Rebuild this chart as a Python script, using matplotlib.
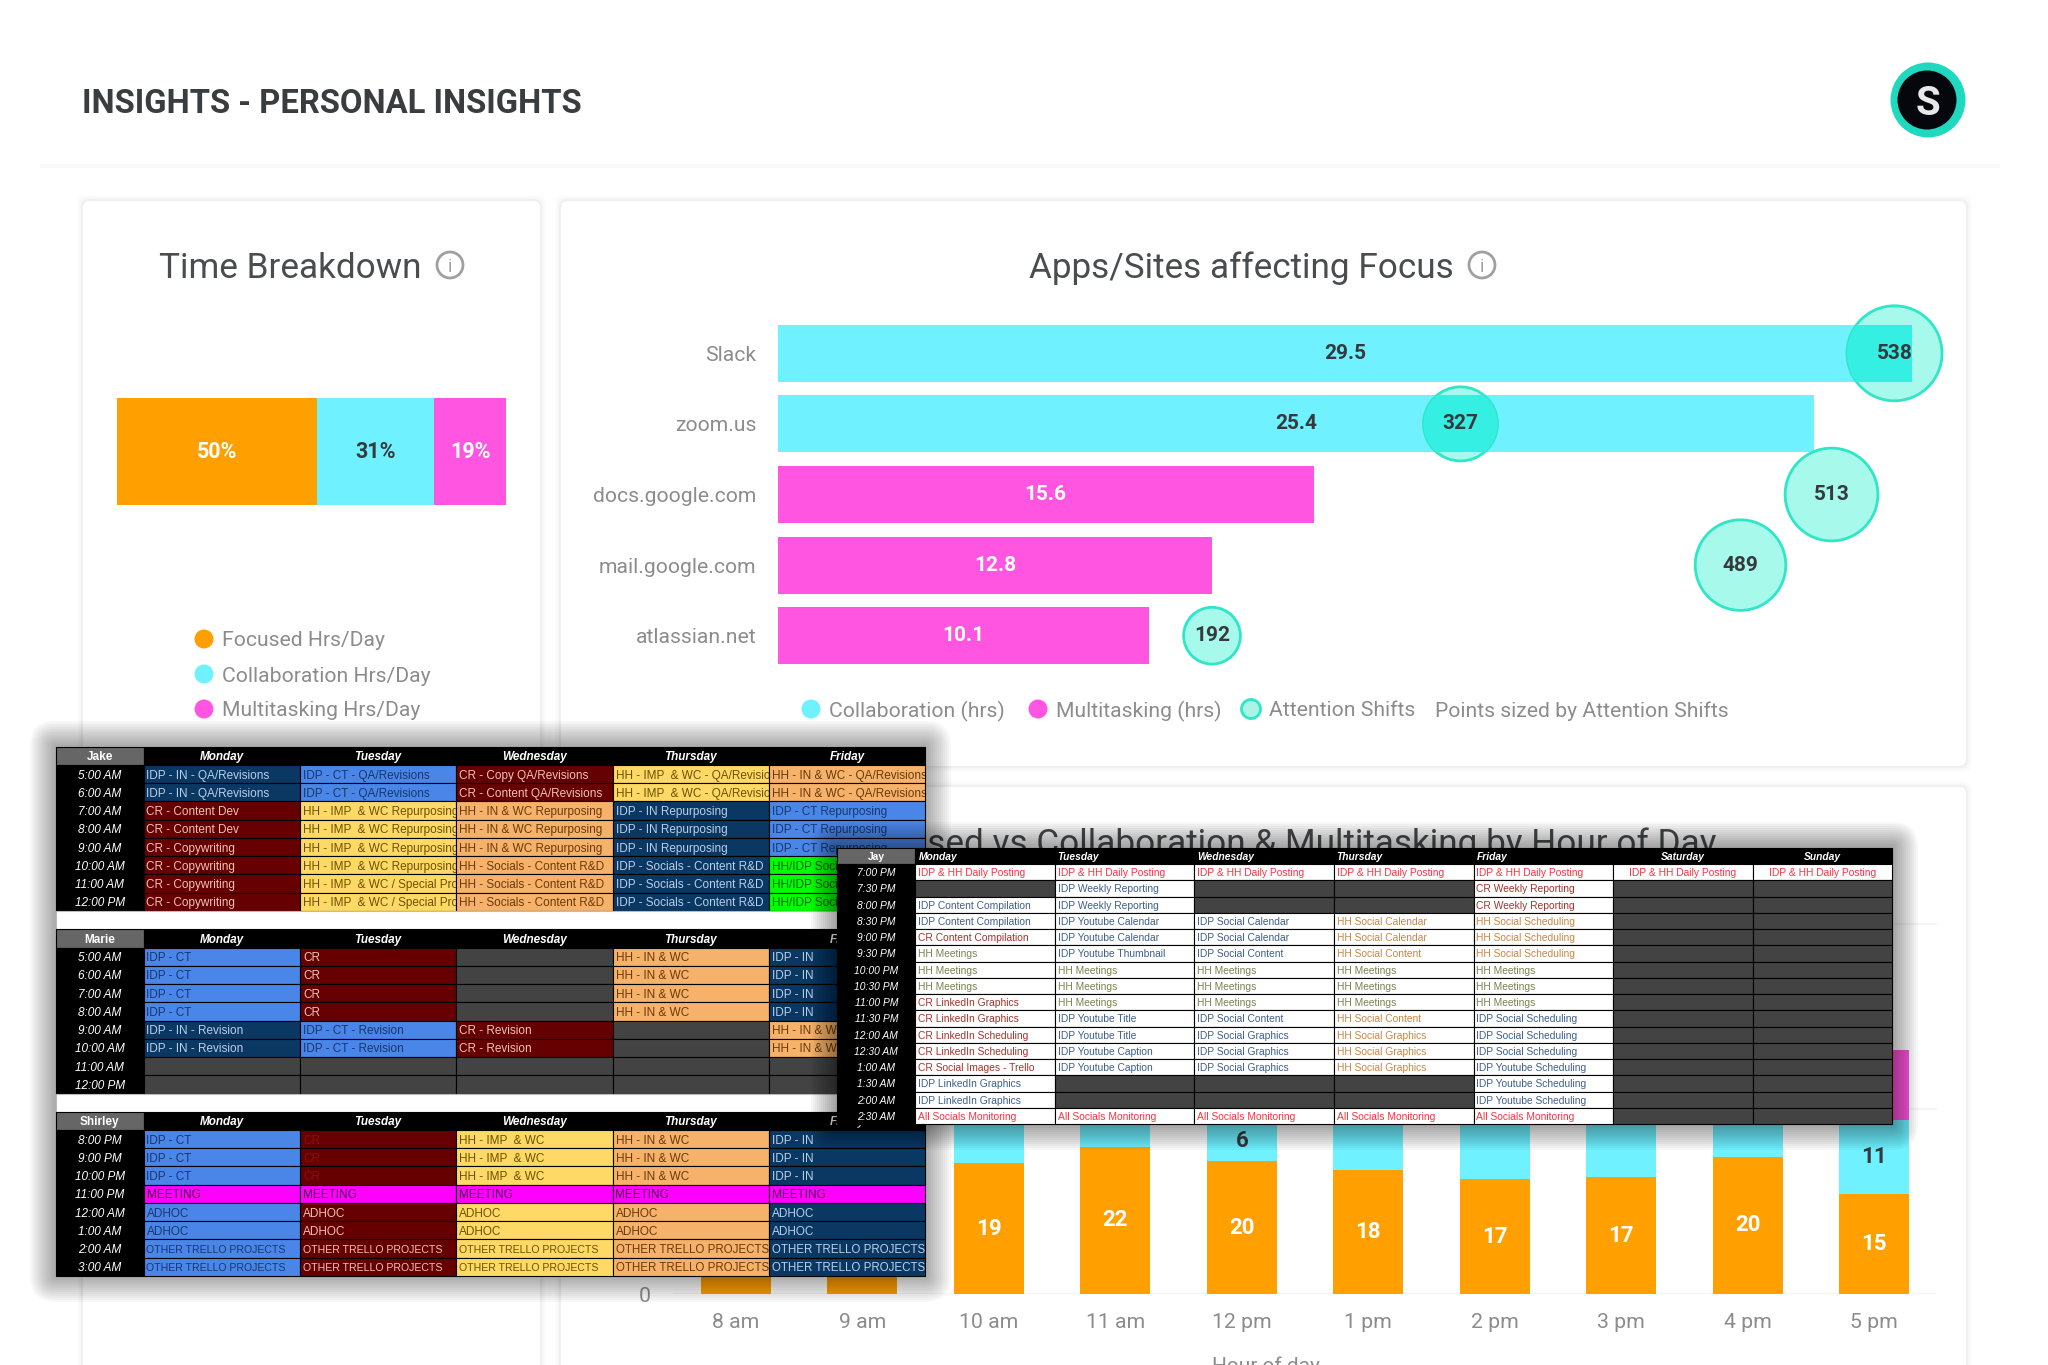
import matplotlib
matplotlib.use("Agg")
import matplotlib.pyplot as plt
from matplotlib.patches import Rectangle, Circle, FancyBboxPatch

W, H = 2048, 1365
UI_FONT = ["Roboto", "DejaVu Sans"]
SHEET_FONT = ["Liberation Sans", "DejaVu Sans"]

ORANGE = "#ff9f00"
CYAN = "#6ff1ff"
PINK = "#ff55e0"
TEAL = "#2fe6c6"
GREY_TEXT = "#8c8c8c"
DARK_TEXT = "#36393d"

# ---------------- Time breakdown ----------------
breakdown_names = ["Focused Hrs/Day", "Collaboration Hrs/Day", "Multitasking Hrs/Day"]
breakdown_pct = [51.3, 30.2, 18.5]
breakdown_labels = ["50%", "31%", "19%"]

# ---------------- Apps / sites ----------------
apps = ["Slack", "zoom.us", "docs.google.com", "mail.google.com", "atlassian.net"]
# bar lengths as drawn, they do not scale exactly with the printed hours
collab_extent = [32.4, 29.6, 0, 0, 0]
multi_extent = [0, 0, 15.3, 12.4, 10.6]
collab_labels = ["29.5", "25.4", "", "", ""]
multi_labels = ["", "", "15.6", "12.8", "10.1"]
attention_shifts = [538, 327, 513, 489, 192]
shift_pos = [31.9, 19.5, 30.1, 27.5, 12.4]

# ---------------- Hour of day ----------------
hours = ["8 am", "9 am", "10 am", "11 am", "12 pm", "1 pm", "2 pm", "3 pm", "4 pm", "5 pm"]
# most of the upper segments sit behind the sheets, those are estimates
focused = [12, 15, 19.4, 21.8, 19.7, 18.4, 17.0, 17.3, 20.3, 14.8]
collab = [12, 14, 15, 10, 6, 15, 18, 18, 13, 11]
multi = [5, 6, 5, 4, 8, 4, 3, 3, 5, 10.3]

# ---------------- Schedules ----------------
week_days = ["Monday", "Tuesday", "Wednesday", "Thursday", "Friday"]
jay_days = week_days + ["Saturday", "Sunday"]

day_times = ["5:00 AM", "6:00 AM", "7:00 AM", "8:00 AM", "9:00 AM", "10:00 AM", "11:00 AM", "12:00 PM"]
night_times = ["8:00 PM", "9:00 PM", "10:00 PM", "11:00 PM", "12:00 AM", "1:00 AM", "2:00 AM", "3:00 AM"]
jay_times = ["7:00 PM", "7:30 PM", "8:00 PM", "8:30 PM", "9:00 PM", "9:30 PM", "10:00 PM", "10:30 PM",
             "11:00 PM", "11:30 PM", "12:00 AM", "12:30 AM", "1:00 AM", "1:30 AM", "2:00 AM", "2:30 AM"]

jake_cols = [
    ["IDP - IN - QA/Revisions"] * 2 + ["CR - Content Dev"] * 2 + ["CR - Copywriting"] * 4,
    ["IDP - CT - QA/Revisions"] * 2 + ["HH - IMP  & WC Repurposing"] * 4 + ["HH - IMP  & WC / Special Projects"] * 2,
    ["CR - Copy QA/Revisions", "CR - Content QA/Revisions"] + ["HH - IN & WC Repurposing"] * 3 + ["HH - Socials - Content R&D"] * 3,
    ["HH - IMP  & WC - QA/Revisions"] * 2 + ["IDP - IN Repurposing"] * 3 + ["IDP - Socials - Content R&D"] * 3,
    ["HH - IN & WC - QA/Revisions"] * 2 + ["IDP - CT Repurposing"] * 3 + ["HH/IDP Socials"] * 3,
]
marie_cols = [
    ["IDP - CT"] * 4 + ["IDP - IN - Revision"] * 2 + [""] * 2,
    ["CR"] * 4 + ["IDP - CT - Revision"] * 2 + [""] * 2,
    [""] * 4 + ["CR - Revision"] * 2 + [""] * 2,
    ["HH - IN & WC"] * 4 + [""] * 4,
    ["IDP - IN"] * 4 + ["HH - IN & WC"] * 2 + [""] * 2,
]
shirley_cols = [
    ["IDP - CT"] * 3 + ["MEETING"] + ["ADHOC"] * 2 + ["OTHER TRELLO PROJECTS"] * 2,
    ["CR"] * 3 + ["MEETING"] + ["ADHOC"] * 2 + ["OTHER TRELLO PROJECTS"] * 2,
    ["HH - IMP  & WC"] * 3 + ["MEETING"] + ["ADHOC"] * 2 + ["OTHER TRELLO PROJECTS"] * 2,
    ["HH - IN & WC"] * 3 + ["MEETING"] + ["ADHOC"] * 2 + ["OTHER TRELLO PROJECTS"] * 2,
    ["IDP - IN"] * 3 + ["MEETING"] + ["ADHOC"] * 2 + ["OTHER TRELLO PROJECTS"] * 2,
]
jay_cols = [
    ["IDP & HH Daily Posting", "", "IDP Content Compilation", "IDP Content Compilation", "CR Content Compilation"]
    + ["HH Meetings"] * 3 + ["CR LinkedIn Graphics"] * 2 + ["CR LinkedIn Scheduling"] * 2
    + ["CR Social Images - Trello"] + ["IDP LinkedIn Graphics"] * 2 + ["All Socials Monitoring"],
    ["IDP & HH Daily Posting"] + ["IDP Weekly Reporting"] * 2 + ["IDP Youtube Calendar"] * 2 + ["IDP Youtube Thumbnail"]
    + ["HH Meetings"] * 3 + ["IDP Youtube Title"] * 2 + ["IDP Youtube Caption"] * 2 + [""] * 2 + ["All Socials Monitoring"],
    ["IDP & HH Daily Posting"] + [""] * 2 + ["IDP Social Calendar"] * 2 + ["IDP Social Content"]
    + ["HH Meetings"] * 3 + ["IDP Social Content"] + ["IDP Social Graphics"] * 3 + [""] * 2 + ["All Socials Monitoring"],
    ["IDP & HH Daily Posting"] + [""] * 2 + ["HH Social Calendar"] * 2 + ["HH Social Content"]
    + ["HH Meetings"] * 3 + ["HH Social Content"] + ["HH Social Graphics"] * 3 + [""] * 2 + ["All Socials Monitoring"],
    ["IDP & HH Daily Posting"] + ["CR Weekly Reporting"] * 2 + ["HH Social Scheduling"] * 3
    + ["HH Meetings"] * 3 + ["IDP Social Scheduling"] * 3 + ["IDP Youtube Scheduling"] * 3 + ["All Socials Monitoring"],
    ["IDP & HH Daily Posting"] + [""] * 15,
    ["IDP & HH Daily Posting"] + [""] * 15,
]

plt.rcParams["font.family"] = UI_FONT
fig = plt.figure(figsize=(W / 100, H / 100), dpi=100, facecolor="white")


def px_axes(x0, y0, x1, y1, zorder=1):
    ax = fig.add_axes([x0 / W, 1 - y1 / H, (x1 - x0) / W, (y1 - y0) / H], zorder=zorder)
    ax.patch.set_alpha(0)
    return ax


def pixel_layer(zorder):
    ax = px_axes(0, 0, W, H, zorder)
    ax.set_xlim(0, W)
    ax.set_ylim(H, 0)
    ax.axis("off")
    return ax


# ---------------- Page background ----------------
bg = pixel_layer(0)
bg.add_patch(Rectangle((40, 164), 1960, 4, color="#f8f8f8", lw=0))
for (x0, y0, x1, y1) in [(82, 200, 541, 1420), (560, 200, 1967, 767), (560, 786, 1967, 1420)]:
    for k in range(5, 0, -1):
        bg.add_patch(FancyBboxPatch((x0 - k, y0 - k), x1 - x0 + 2 * k, y1 - y0 + 2 * k,
                                    boxstyle="round,pad=0,rounding_size=8", fc="#000000", ec="none", alpha=0.008))
    bg.add_patch(FancyBboxPatch((x0, y0), x1 - x0, y1 - y0, boxstyle="round,pad=0,rounding_size=8",
                                fc="white", ec="#f0f0f0", lw=1.5))

bg.text(82, 100.5, "INSIGHTS - PERSONAL INSIGHTS", fontsize=23.6, fontweight="bold", color="#3a3d40",
        va="center_baseline")

# avatar
bg.add_patch(Circle((1928, 100), 37.5, fc="#1fd8c0", ec="none"))
bg.add_patch(Circle((1927, 100), 29.5, fc="#05070d", ec="none"))
bg.text(1928, 100, "S", fontsize=29, fontweight="bold", color="#e8e8e8", ha="center", va="center_baseline")


def card_title(text, x, y, icon_x):
    bg.text(x, y, text, fontsize=25.3, color="#4a4d50", ha="center", va="center_baseline")
    bg.add_patch(Circle((icon_x, y), 13, fc="none", ec="#a0a0a0", lw=2))
    bg.text(icon_x, y, "i", fontsize=13, color="#a0a0a0", ha="center", va="center_baseline")


def legend_item(x, y, color, text, edge=None):
    bg.add_patch(Circle((x, y), 9.5, fc=color, ec=edge or "none", lw=2))
    bg.text(x + 18, y, text, fontsize=15.2, color=GREY_TEXT, va="center_baseline")


card_title("Time Breakdown", 290, 265, 450)
card_title("Apps/Sites affecting Focus", 1241, 265, 1482)
bg.text(1716, 841, "Focused vs Collaboration & Multitasking by Hour of Day", fontsize=25.3, color="#4a4d50",
        ha="right", va="center_baseline")

# ---------------- Time breakdown bar ----------------
ax = px_axes(117, 398, 506, 505)
left = 0
for val, color, label, txt in zip(breakdown_pct, [ORANGE, CYAN, PINK], breakdown_labels, ["white", DARK_TEXT, "white"]):
    bars = ax.barh([0], [val], left=left, height=1, color=color)
    ax.bar_label(bars, labels=[label], label_type="center", color=txt, fontsize=15.5, fontweight="bold")
    left += val
ax.set_xlim(0, 100)
ax.set_ylim(-0.5, 0.5)
ax.axis("off")

for y, color, name in zip([639, 674, 709], [ORANGE, CYAN, PINK], breakdown_names):
    legend_item(204, y, color, name)

# ---------------- Apps chart ----------------
ax = px_axes(778, 318, 2003, 671)
b1 = ax.barh(apps, collab_extent, height=0.81, color=CYAN)
b2 = ax.barh(apps, multi_extent, height=0.81, color=PINK)
ax.bar_label(b1, labels=collab_labels, label_type="center", color=DARK_TEXT, fontsize=15, fontweight="bold")
ax.bar_label(b2, labels=multi_labels, label_type="center", color="white", fontsize=15, fontweight="bold")
sizes = [v * 8.7 for v in attention_shifts]
ax.scatter(shift_pos, apps, s=sizes, facecolor=(0.18, 0.95, 0.82, 0.42), edgecolor=TEAL, linewidth=2,
           clip_on=False, zorder=3)
# where a bubble lies on a cyan bar the reference goes a much stronger teal
for bar in b1[:2]:
    over = ax.scatter(shift_pos, apps, s=sizes, facecolor="#35f0e2", edgecolor="none", zorder=3.5)
    over.set_clip_path(bar)
for pos, app, v in zip(shift_pos, apps, attention_shifts):
    ax.text(pos, app, str(v), color=DARK_TEXT, fontsize=15, fontweight="bold", ha="center", va="center", zorder=4)
ax.set_xlim(0, 35)
ax.set_ylim(4.5, -0.5)
ax.xaxis.set_visible(False)
for s in ax.spines.values():
    s.set_visible(False)
ax.tick_params(axis="y", length=0, pad=15.5, labelsize=15.2, labelcolor=GREY_TEXT)

legend_item(811, 709, CYAN, "Collaboration (hrs)")
legend_item(1038, 709, PINK, "Multitasking (hrs)")
legend_item(1251, 709, "#a8f5e6", "Attention Shifts", edge=TEAL)
bg.text(1435, 709, "Points sized by Attention Shifts", fontsize=15.2, color=GREY_TEXT, va="center_baseline")

# ---------------- Hour of day chart ----------------
ax = px_axes(672.8, 880, 1937.2, 1294)
x_pos = list(range(len(hours)))
b1 = ax.bar(x_pos, focused, width=0.554, color=ORANGE)
b2 = ax.bar(x_pos, collab, width=0.554, bottom=focused, color=CYAN)
stack = [a + b for a, b in zip(focused, collab)]
b3 = ax.bar(x_pos, multi, width=0.554, bottom=stack, color=PINK)
ax.bar_label(b1, labels=[f"{v:.0f}" for v in focused], label_type="center", color="white", fontsize=16, fontweight="bold")
ax.bar_label(b2, labels=[f"{v:.0f}" for v in collab], label_type="center", color=DARK_TEXT, fontsize=16, fontweight="bold")
ax.bar_label(b3, labels=[f"{v:.0f}" for v in multi], label_type="center", color="white", fontsize=16, fontweight="bold")
ax.set_xlim(-0.5, 9.5)
ax.set_ylim(0, 414 / 6.75)
ax.set_yticks([0, 27.4, 54.8], ["0", "27", "55"])
ax.set_xticks(x_pos, hours)
ax.set_axisbelow(True)
ax.grid(axis="y", color="#f5f5f5", lw=1.5)
for s in ax.spines.values():
    s.set_visible(False)
ax.tick_params(axis="both", length=0, labelsize=15.3, labelcolor=GREY_TEXT)
ax.tick_params(axis="x", pad=14)
ax.tick_params(axis="y", pad=16)
ax.set_xlabel("Hour of day", fontsize=15, color=GREY_TEXT, labelpad=15)
ax.xaxis.set_label_coords(0.469, -0.15)

# ---------------- Schedule sheets ----------------
top = pixel_layer(5)
FILLS = {"navy": ("#0b3763", "#b9d0ea"), "blue": ("#4a86e8", "#17376e"), "red": ("#660000", "#eec2b8"),
         "yellow": ("#ffd966", "#6b5200"), "orange": ("#f6b26b", "#6a3a08"), "green": ("#00ff00", "#0a5a0a"),
         "pink": ("#ff00ff", "#4c004c"), "empty": ("#434343", "#434343")}


def fill_key(text):
    if text == "":
        return "empty"
    if text == "MEETING":
        return "pink"
    if text.startswith("HH/IDP"):
        return "green"
    if text.startswith(("IDP - IN", "IDP - Socials")):
        return "navy"
    if text.startswith("IDP - CT"):
        return "blue"
    if text.startswith("CR"):
        return "red"
    if text.startswith("HH - IMP"):
        return "yellow"
    return "orange"


def jay_color(text):
    if text.startswith(("IDP & HH", "All")):
        return "#ff3040"
    if text.startswith("IDP"):
        return "#3f5f8c"
    if text.startswith("CR"):
        return "#a8322a"
    if text.startswith("HH Meet"):
        return "#7c8352"
    return "#c98744"


def shadow(x0, y0, x1, y1, z, alpha):
    for k in range(26, 0, -2):
        top.add_patch(FancyBboxPatch((x0 - k, y0 - k), x1 - x0 + 2 * k, y1 - y0 + 2 * k,
                                     boxstyle=f"round,pad=0,rounding_size={k}", fc="black", ec="none",
                                     alpha=alpha, zorder=z))


def cell(x0, y0, x1, y1, fc, text, color, z, fontsize, ha="left", **kw):
    rect = Rectangle((x0, y0), x1 - x0, y1 - y0, fc=fc, ec="black", lw=0.8, zorder=z)
    top.add_patch(rect)
    if not text:
        return
    tx = x0 + 3 if ha == "left" else (x0 + x1) / 2
    t = top.text(tx, (y0 + y1) / 2, text, color=color, fontsize=fontsize, family=SHEET_FONT, ha=ha,
                 va="center_baseline", zorder=z + 0.1, clip_on=True, **kw)
    t.set_clip_path(rect)


def header(name, y0, y1, xs, days, z, fontsize, left_days=0):
    cell(xs[0], y0, xs[1], y1, "#666666", name, "white", z, fontsize, ha="center", fontweight="bold")
    for i, day in enumerate(days):
        cell(xs[i + 1], y0, xs[i + 2], y1, "black", day, "white", z, fontsize,
             ha="left" if i < left_days else "center", fontweight="bold", fontstyle="italic")


def team_block(name, times, cols, y0, xs, z):
    row_h = 18.25
    header(name, y0, y0 + row_h, xs, week_days, z, 8.5)
    for r, time in enumerate(times):
        ry = y0 + row_h * (r + 1)
        cell(xs[0], ry, xs[1], ry + row_h, "black", time, "white", z, 8.5, ha="center", fontstyle="italic")
        for c, col in enumerate(cols):
            # ADHOC and Trello rows take the colour of the person's project in that column
            key = fill_key(col[0]) if col[r].startswith(("ADHOC", "OTHER")) else fill_key(col[r])
            fc, tc = FILLS[key]
            if name == "Shirley" and col[r] == "CR":
                tc = "#8a1010"
            size = 7.6 if col[r].startswith("OTHER") and c < 3 else 8.5
            if col[r].startswith("OTHER") and c >= 3:
                size = 8.3
            cell(xs[c + 1], ry, xs[c + 2], ry + row_h, fc, col[r], tc, z, size)


jake_x = [55.7, 143.5, 300, 456, 612.5, 769, 925]
shadow(55.7, 746.7, 925, 1276, 6, 0.026)
team_block("Jake", day_times, jake_cols, 746.7, jake_x, 7)
top.add_patch(Rectangle((55.7, 911), 869.3, 18.5, fc="white", ec="#bbbbbb", lw=0.8, zorder=7))
team_block("Marie", day_times, marie_cols, 929.3, jake_x, 7)
top.add_patch(Rectangle((55.7, 1093.5), 869.3, 18.2, fc="white", ec="#bbbbbb", lw=0.8, zorder=7))
team_block("Shirley", night_times, shirley_cols, 1111.7, jake_x, 7)

jay_x = [837, 915.4, 1054.6, 1193.8, 1333.7, 1473.5, 1612.7, 1752.6, 1892]
shadow(837, 848, 1892, 1124, 9, 0.03)
header("Jay", 848, 864, jay_x, jay_days, 10, 7.4, left_days=5)
row_h = 16.25
for r, time in enumerate(jay_times):
    ry = 864 + row_h * r
    cell(jay_x[0], ry, jay_x[1], ry + row_h, "black", time, "white", 10, 7.4, ha="center", fontstyle="italic")
    for c, col in enumerate(jay_cols):
        txt = col[r]
        fc = "white" if txt else "#434343"
        cell(jay_x[c + 1], ry, jay_x[c + 2], ry + row_h, fc, txt, jay_color(txt), 10, 7.4,
             ha="left" if c < 5 else "center")

fig.savefig("out.png", dpi=100)
